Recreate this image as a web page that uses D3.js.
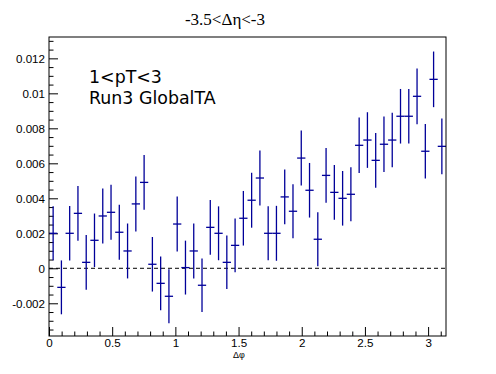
<!DOCTYPE html>
<html>
<head>
<meta charset="utf-8">
<script src="https://cdn.jsdelivr.net/npm/d3@7"></script>
<style>
  body { margin: 0; background: white; }
  .tick text { font-family: "Liberation Sans", Arial, sans-serif; font-size: 11.6px; fill: black; }
</style>
</head>
<body>
<div id="chart"></div>
<script>
// bin contents, 48 bins over [0, pi]
const nBins = 48;
const values = [0.0020, -0.00109, 0.0020, 0.00314, 0.00034, 0.0016, 0.00299, 0.0032, 0.00206, 0.00099,
    0.00368, 0.00491, 0.00023, -0.00086, -0.0016, 0.00253, 0.00004, 0.00099, -0.00097, 0.00234,
    0.0020, 0.00034, 0.00131, 0.00286, 0.00389, 0.00516, 0.0020, 0.0020, 0.00408, 0.00326,
    0.0063, 0.00446, 0.00166, 0.00531, 0.00434, 0.0040, 0.00423, 0.00703, 0.00733, 0.00617,
    0.00709, 0.00733, 0.00869, 0.00869, 0.00983, 0.00669, 0.0108, 0.00697];
const errors = [0.00154, 0.00154, 0.00156, 0.00156, 0.00156, 0.00153, 0.00157, 0.00157, 0.00157, 0.00157,
    0.00157, 0.00157, 0.00156, 0.00154, 0.00154, 0.00157, 0.00154, 0.00157, 0.00153, 0.00157,
    0.00154, 0.00153, 0.00153, 0.00156, 0.00157, 0.00157, 0.00154, 0.00157, 0.00156, 0.00154,
    0.00157, 0.00156, 0.00154, 0.00156, 0.00156, 0.00156, 0.00154, 0.00159, 0.00159, 0.00156,
    0.00159, 0.00156, 0.00156, 0.00156, 0.00159, 0.00156, 0.00159, 0.00159];
const yTicks = [-0.002, 0, 0.002, 0.004, 0.006, 0.008, 0.01, 0.012];
const xTicks = [0, 0.5, 1, 1.5, 2, 2.5, 3];
const title = "-3.5<\u0394\u03b7<-3";
const xTitle = "\u0394\u03c6";
const labels = ["1<pT<3", "Run3 GlobalTA"];

const W = 496, H = 374;
const padL = 49, padR = 446, padT = 37, padB = 336;
const lineColor = "#000099";

const svg = d3.select("#chart").append("svg")
    .attr("width", W)
    .attr("height", H);

const x = d3.scaleLinear([0, Math.PI], [padL, padR]);
const y = d3.scaleLinear([-0.00387, 0.01322], [padB, padT]);
const binW = Math.PI / nBins;

// minor ticks
let yMinor = d3.range(-0.0035, 0.0131, 0.0005).filter(v => Math.abs(v / 0.002 - Math.round(v / 0.002)) > 1e-6);
svg.append("g")
    .attr("transform", `translate(${padL},0)`)
    .call(d3.axisLeft(y).tickValues(yMinor).tickSize(-4.5).tickFormat(""))
    .call(g => g.select(".domain").remove());

let xMinor = d3.range(0.1, 3.15, 0.1).filter(v => Math.abs(v / 0.5 - Math.round(v / 0.5)) > 1e-6);
svg.append("g")
    .attr("transform", `translate(0,${padB})`)
    .call(d3.axisBottom(x).tickValues(xMinor).tickSize(-4.5).tickFormat(""))
    .call(g => g.select(".domain").remove());

// major ticks
svg.append("g")
    .attr("transform", `translate(${padL},0)`)
    .call(d3.axisLeft(y).tickValues(yTicks).tickSize(-9).tickPadding(4)
        .tickFormat(d => String(+d.toFixed(4))))
    .call(g => g.select(".domain").remove());

svg.append("g")
    .attr("transform", `translate(0,${padB})`)
    .call(d3.axisBottom(x).tickValues(xTicks).tickSize(-9).tickPadding(3)
        .tickFormat(d => String(d)))
    .call(g => g.select(".domain").remove());

svg.selectAll(".tick line").attr("stroke", "black");

// zero line
svg.append("line")
    .attr("x1", x(0)).attr("x2", x(Math.PI))
    .attr("y1", y(0)).attr("y2", y(0))
    .attr("stroke", "black")
    .attr("stroke-dasharray", "4,3");

// error bars
const pts = svg.append("g").attr("stroke", lineColor).attr("stroke-width", 1.3);
values.forEach((v, i) => {
    let c = (i + 0.5) * binW;
    pts.append("line")
        .attr("x1", x(c)).attr("x2", x(c))
        .attr("y1", y(v - errors[i])).attr("y2", y(v + errors[i]));
    pts.append("line")
        .attr("x1", x(i * binW)).attr("x2", x((i + 1) * binW))
        .attr("y1", y(v)).attr("y2", y(v));
});

// frame
svg.append("rect")
    .attr("x", padL).attr("y", padT)
    .attr("width", padR - padL).attr("height", padB - padT)
    .attr("fill", "none")
    .attr("stroke", "black");

svg.append("text")
    .attr("x", 225).attr("y", 25)
    .attr("text-anchor", "middle")
    .style("font-family", "'Liberation Serif', 'Times New Roman', serif")
    .style("font-size", "17px")
    .text(title);

svg.append("text")
    .attr("x", 239).attr("y", 358)
    .attr("text-anchor", "middle")
    .style("font-family", "'Liberation Sans', Arial, sans-serif")
    .style("font-size", "9px")
    .text(xTitle);

labels.forEach((t, i) => {
    svg.append("text")
        .attr("x", 89).attr("y", 82.5 + i * 21.5)
        .style("font-family", "'DejaVu Sans', sans-serif")
        .style("font-size", "17.4px")
        .text(t);
});
</script>
</body>
</html>
